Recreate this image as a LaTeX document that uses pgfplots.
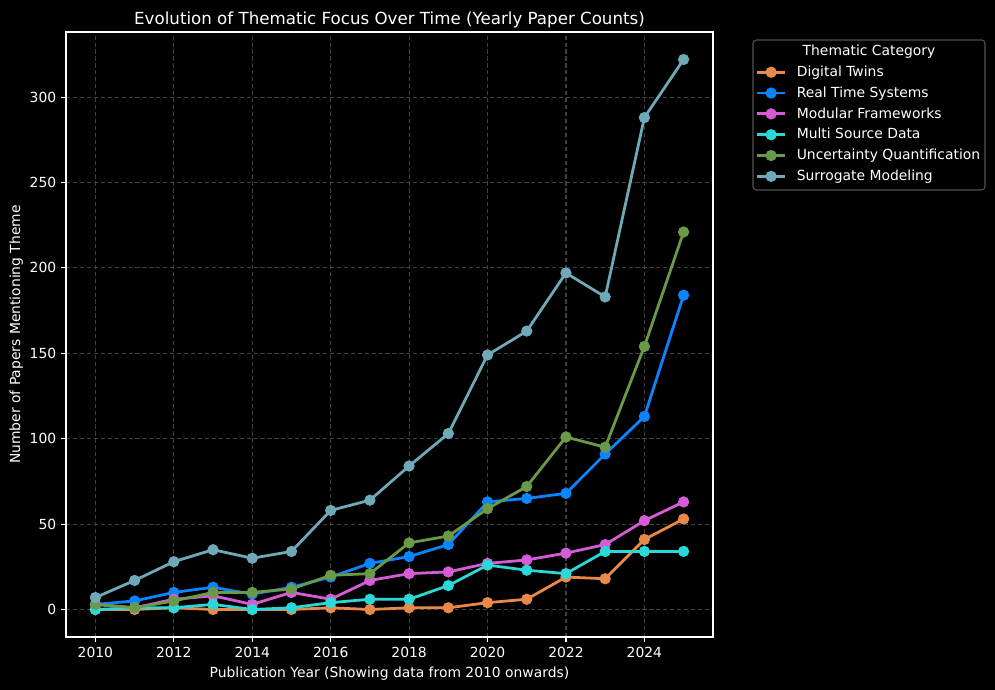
\documentclass[border=0pt]{standalone}
\usepackage{fontspec}
\setmainfont{DejaVu Sans}
\usepackage{pgfplots}
\pgfplotsset{compat=1.18}
\definecolor{cDT}{RGB}{232,137,74}
\definecolor{cRT}{RGB}{10,132,255}
\definecolor{cMF}{RGB}{214,91,214}
\definecolor{cMS}{RGB}{42,216,216}
\definecolor{cUQ}{RGB}{106,154,72}
\definecolor{cSM}{RGB}{111,168,184}
\definecolor{gridc}{RGB}{64,64,64}
\definecolor{legc}{RGB}{80,80,80}
\begin{document}
\begin{tikzpicture}
\fill[black] (0,0) rectangle (716.4pt,496.8pt);
\begin{axis}[
  at={(47.52pt,38.16pt)}, anchor=south west,
  scale only axis, width=465.84pt, height=435.6pt,
  xmin=2009.25, xmax=2025.75, ymin=-16.1, ymax=338.1,
  xtick={2010,2012,...,2024}, ytick={0,50,...,300},
  /pgf/number format/assume math mode=true,
  x tick label style={/pgf/number format/1000 sep={}},
  ticklabel style={font=\fontsize{10}{12}\selectfont, text=white},
  axis line style={white, line width=0.8pt},
  tick style={white, line width=0.8pt},
  tick align=outside, major tick length=3.5pt,
  xtick pos=bottom, ytick pos=left,
  grid=major, major grid style={gridc, dashed, line width=0.8pt, dash pattern=on 3pt off 2pt},
  title={Evolution of Thematic Focus Over Time (Yearly Paper Counts)},
  title style={font=\fontsize{12}{14}\selectfont, text=white, yshift=-6.5pt},
  xlabel={Publication Year (Showing data from 2010 onwards)},
  ylabel={Number of Papers Mentioning Theme},
  label style={font=\fontsize{10}{12}\selectfont, text=white},
  ylabel style={yshift=-2pt},
  every axis plot/.append style={line width=2pt, mark=*, mark size=3pt},
  legend style={at={(1.0658,0.9512)}, anchor=north west, draw=none, fill=none,
    inner sep=0pt, font=\fontsize{10}{12}\selectfont, text=white,
    nodes={text height=8pt, text depth=2pt, inner sep=2.5pt},
    /tikz/every odd column/.append style={column sep=5pt}},
  legend cell align=left,
  legend image code/.code={\draw[mark repeat=2,mark phase=2] plot coordinates {(0pt,0pt)(10pt,0pt)(20pt,0pt)};},
]
\addplot[cDT] coordinates {(2010,0)(2011,0)(2012,1)(2013,0)(2014,0)(2015,0)(2016,1)(2017,0)(2018,1)(2019,1)(2020,4)(2021,6)(2022,19)(2023,18)(2024,41)(2025,53)};
\addlegendentry{Digital Twins}
\addplot[cRT] coordinates {(2010,3)(2011,5)(2012,10)(2013,13)(2014,9)(2015,13)(2016,19)(2017,27)(2018,31)(2019,38)(2020,63)(2021,65)(2022,68)(2023,91)(2024,113)(2025,184)};
\addlegendentry{Real Time Systems}
\addplot[cMF] coordinates {(2010,3)(2011,1)(2012,6)(2013,8)(2014,3)(2015,10)(2016,6)(2017,17)(2018,21)(2019,22)(2020,27)(2021,29)(2022,33)(2023,38)(2024,52)(2025,63)};
\addlegendentry{Modular Frameworks}
\addplot[cMS] coordinates {(2010,0)(2011,1)(2012,1)(2013,3)(2014,0)(2015,1)(2016,4)(2017,6)(2018,6)(2019,14)(2020,26)(2021,23)(2022,21)(2023,34)(2024,34)(2025,34)};
\addlegendentry{Multi Source Data}
\addplot[cUQ] coordinates {(2010,3)(2011,1)(2012,5)(2013,10)(2014,10)(2015,12)(2016,20)(2017,21)(2018,39)(2019,43)(2020,59)(2021,72)(2022,101)(2023,95)(2024,154)(2025,221)};
\addlegendentry{Uncertainty Quantification}
\addplot[cSM] coordinates {(2010,7)(2011,17)(2012,28)(2013,35)(2014,30)(2015,34)(2016,58)(2017,64)(2018,84)(2019,103)(2020,149)(2021,163)(2022,197)(2023,183)(2024,288)(2025,322)};
\addlegendentry{Surrogate Modeling}
\end{axis}
\draw[legc, line width=0.8pt, rounded corners=2.5pt] (542.16pt,360pt) rectangle (709.2pt,468pt);
\node[text=white, font=\fontsize{10}{12}\selectfont] at (625.7pt,459.5pt) {Thematic Category};
\pgfresetboundingbox
\useasboundingbox (0,0) rectangle (716.4pt,496.8pt);
\end{tikzpicture}
\end{document}
